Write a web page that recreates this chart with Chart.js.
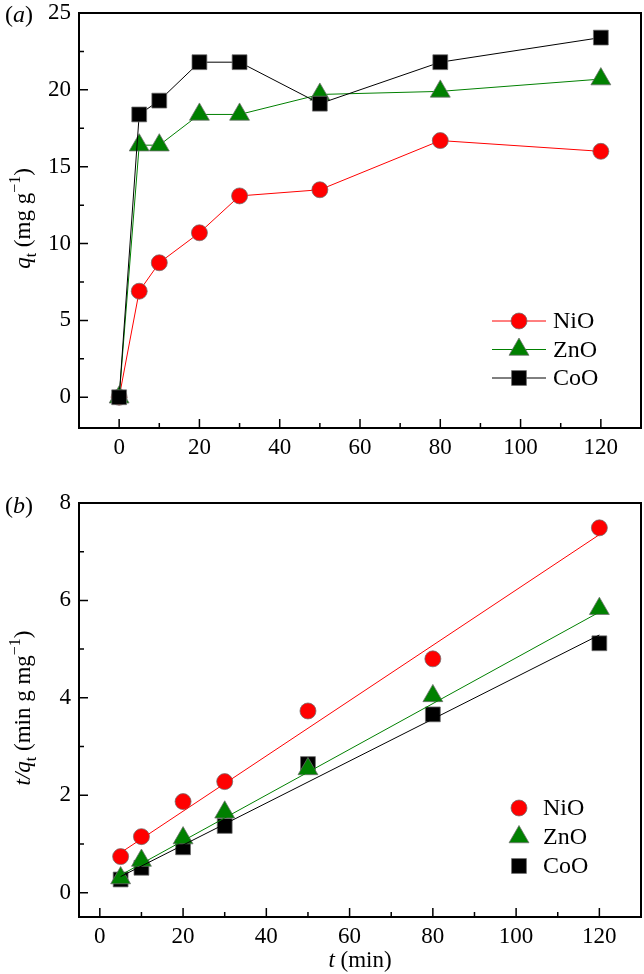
<!DOCTYPE html>
<html><head><meta charset="utf-8">
<script src="https://cdn.jsdelivr.net/npm/chart.js@4/dist/chart.umd.min.js"></script>
<style>
html,body{margin:0;padding:0;background:#fff;}
#ca{position:absolute;left:0;top:0;}
#cb{position:absolute;left:0;top:480px;}
.pre{font-family:'Liberation Serif';position:absolute;left:-999px;top:0;}
</style>
</head><body>
<span class="pre">NiO <i>q</i></span>
<canvas id="ca" width="644" height="480"></canvas>
<canvas id="cb" width="644" height="494"></canvas>
<script>
// ---------- data ----------
const seriesNames = ['NiO', 'ZnO', 'CoO'];
// panel (a): qt vs t
const tA = [0, 5, 10, 20, 30, 50, 80, 120];
const niA = [0, 6.9, 8.75, 10.7, 13.1, 13.5, 16.7, 16.0];
const znA = [0, 16.4, 16.4, 18.4, 18.4, 19.7, 19.9, 20.7];
const coA = [0, 18.4, 19.3, 21.8, 21.8, 19.1, 21.8, 23.4];
// panel (b): t/qt vs t
const tB = [5, 10, 20, 30, 50, 80, 120];
const niB = [0.74, 1.15, 1.87, 2.28, 3.73, 4.80, 7.49];
const znB = [0.30, 0.66, 1.12, 1.65, 2.54, 4.04, 5.83];
const coB = [0.27, 0.51, 0.93, 1.37, 2.64, 3.66, 5.12];
// fitted lines of panel (b), end points
const fitT = [5, 120];
const niFit = [0.82, 7.35];
const znFit = [0.36, 5.76];
const coFit = [0.33, 5.29];
// ticks
const xMajorA = [0, 20, 40, 60, 80, 100, 120];
const xMinorA = [10, 30, 50, 70, 90, 110];
const yMajorA = [0, 5, 10, 15, 20, 25];
const yMinorA = [2.5, 7.5, 12.5, 17.5, 22.5];
const xMajorB = [0, 20, 40, 60, 80, 100, 120];
const xMinorB = [10, 30, 50, 70, 90, 110];
const yMajorB = [0, 2, 4, 6, 8];
const yMinorB = [1, 3, 5, 7];

// ---------- styles ----------
const FONT = "'Liberation Serif', 'Times New Roman', serif";
const colors = ['#ff0000', '#008000', '#000000'];
const styles = ['circle', 'triangle', 'rect'];
const radii = [8, 11.5, 10.5];
const edge = 'rgba(110,110,110,0.75)';

function pts(xs, ys) { return xs.map((x, i) => ({x: x, y: ys[i]})); }

function drawMarker(ctx, style, x, y, r, fill, stroke) {
  ctx.save();
  ctx.fillStyle = fill; ctx.strokeStyle = stroke; ctx.lineWidth = 1;
  ctx.beginPath();
  if (style === 'circle') {
    ctx.arc(x, y, r, 0, Math.PI * 2);
  } else if (style === 'triangle') {
    let a = 0;
    ctx.moveTo(x + Math.sin(a) * r, y - Math.cos(a) * r);
    a += 2 * Math.PI / 3;
    ctx.lineTo(x + Math.sin(a) * r, y - Math.cos(a) * r);
    a += 2 * Math.PI / 3;
    ctx.lineTo(x + Math.sin(a) * r, y - Math.cos(a) * r);
    ctx.closePath();
  } else {
    const s = Math.SQRT1_2 * r;
    ctx.rect(x - s, y - s, 2 * s, 2 * s);
  }
  ctx.fill(); ctx.stroke();
  ctx.restore();
}

function rich(ctx, parts, x, y, rot, size) {
  ctx.save();
  ctx.translate(x, y);
  if (rot) ctx.rotate(-Math.PI / 2);
  const fontOf = p => (p.it ? 'italic ' : '') + ((p.sub || p.sup) ? Math.round(size * 0.68) : size) + 'px ' + FONT;
  let w = 0;
  parts.forEach(p => { ctx.font = fontOf(p); p.w = ctx.measureText(p.t).width; w += p.w; });
  let cx = -w / 2;
  ctx.fillStyle = '#000'; ctx.textAlign = 'left'; ctx.textBaseline = 'alphabetic';
  parts.forEach(p => {
    ctx.font = fontOf(p);
    const dy = p.sub ? size * 0.25 : (p.sup ? -size * 0.42 : 0);
    ctx.fillText(p.t, cx, dy);
    cx += p.w;
  });
  ctx.restore();
}

function makePlugin(o) {
  return {
    id: 'frame',
    afterDraw(chart) {
      const ctx = chart.ctx, a = chart.chartArea;
      const xs = chart.scales.x, ys = chart.scales.y;
      ctx.save();
      ctx.strokeStyle = '#000';
      ctx.lineWidth = 1.5;
      ctx.beginPath();
      o.xMajor.forEach(v => { const p = xs.getPixelForValue(v); ctx.moveTo(p, a.bottom); ctx.lineTo(p, a.bottom - 9); });
      o.xMinor.forEach(v => { const p = xs.getPixelForValue(v); ctx.moveTo(p, a.bottom); ctx.lineTo(p, a.bottom - 5); });
      o.yMajor.forEach(v => { const p = ys.getPixelForValue(v); ctx.moveTo(a.left, p); ctx.lineTo(a.left + 9, p); });
      o.yMinor.forEach(v => { const p = ys.getPixelForValue(v); ctx.moveTo(a.left, p); ctx.lineTo(a.left + 5, p); });
      ctx.stroke();
      ctx.lineWidth = 2;
      ctx.strokeRect(a.left, a.top, a.right - a.left, a.bottom - a.top);
      ctx.restore();
      // titles
      rich(ctx, o.yTitle, 30, (a.top + a.bottom) / 2 - 2, true, 23);
      if (o.xTitle) rich(ctx, o.xTitle, (a.left + a.right) / 2, o.xTitleY, false, 23);
      rich(ctx, o.panel, 19, o.panelY, false, 24);
      // legend
      const ds = chart.data.datasets.filter(d => d.inLegend).sort((p, q) => p.legendIndex - q.legendIndex);
      ds.forEach((d, i) => {
        const y = o.legY + i * o.legGap;
        if (o.legLine) {
          ctx.save(); ctx.strokeStyle = d.borderColor; ctx.lineWidth = 1;
          ctx.beginPath(); ctx.moveTo(o.legX - 27, y); ctx.lineTo(o.legX + 27, y); ctx.stroke(); ctx.restore();
        }
        drawMarker(ctx, d.pointStyle, o.legX, y, d.pointRadius, d.pointBackgroundColor, d.pointBorderColor);
        ctx.save(); ctx.fillStyle = '#000'; ctx.font = '24px ' + FONT; ctx.textAlign = 'left'; ctx.textBaseline = 'middle';
        ctx.fillText(d.label, o.legTextX, y + 1); ctx.restore();
      });
    }
  };
}

function scalesCfg(xmin, xmax, ymin, ymax, xMajor, yMajor, xh) {
  const tickFont = {family: FONT, size: 23};
  return {
    x: {
      type: 'linear', min: xmin, max: xmax,
      afterBuildTicks: s => { s.ticks = xMajor.map(v => ({value: v})); },
      ticks: {font: tickFont, color: '#000', padding: 6, maxRotation: 0, autoSkip: false},
      grid: {display: false, drawTicks: false}, border: {display: false},
      afterFit: s => { s.height = xh; s.paddingLeft = 0; s.paddingRight = 0; }
    },
    y: {
      type: 'linear', min: ymin, max: ymax,
      afterBuildTicks: s => { s.ticks = yMajor.map(v => ({value: v})); },
      ticks: {font: tickFont, color: '#000', padding: 8, autoSkip: false},
      grid: {display: false, drawTicks: false}, border: {display: false},
      afterFit: s => { s.width = 79; s.paddingTop = 0; s.paddingBottom = 0; }
    }
  };
}

function build() {
  // ---------- chart (a) ----------
  const dataA = [niA, znA, coA];
  new Chart(document.getElementById('ca'), {
    type: 'line',
    data: {
      datasets: dataA.map((ys, i) => ({
        label: seriesNames[i], inLegend: true, legendIndex: i,
        data: pts(tA, ys),
        borderColor: colors[i], borderWidth: 1, tension: 0, fill: false,
        pointStyle: styles[i], pointRadius: radii[i], pointHoverRadius: radii[i],
        pointBackgroundColor: colors[i], pointBorderColor: edge, pointBorderWidth: 1
      })).reverse()
    },
    options: {
      responsive: false, animation: false, events: [],
      layout: {autoPadding: false, padding: {top: 13, right: 3, left: 0, bottom: 0}},
      plugins: {legend: {display: false}, tooltip: {enabled: false}},
      scales: scalesCfg(-10, 130, -2, 25, xMajorA, yMajorA, 52)
    },
    plugins: [makePlugin({
      xMajor: xMajorA, xMinor: xMinorA, yMajor: yMajorA, yMinor: yMinorA,
      yTitle: [{t: 'q', it: true}, {t: 't', sub: true}, {t: ' (mg g'}, {t: '\u22121', sup: true}, {t: ')'}],
      xTitle: null,
      panel: [{t: '('}, {t: 'a', it: true}, {t: ')'}], panelY: 22,
      legX: 519, legTextX: 553, legY: 321, legGap: 28.5, legLine: true
    })]
  });

  // ---------- chart (b) ----------
  const dataB = [niB, znB, coB];
  const fitB = [niFit, znFit, coFit];
  const dsB = [];
  fitB.forEach((ys, i) => dsB.push({
    label: seriesNames[i] + ' fit', inLegend: false, type: 'line',
    data: pts(fitT, ys), borderColor: colors[i], borderWidth: 1, pointRadius: 0, tension: 0, fill: false
  }));
  dataB.forEach((ys, i) => dsB.push({
    label: seriesNames[i], inLegend: true, legendIndex: i, type: 'scatter',
    data: pts(tB, ys), showLine: false, borderColor: colors[i],
    pointStyle: styles[i], pointRadius: radii[i], pointHoverRadius: radii[i],
    pointBackgroundColor: colors[i], pointBorderColor: edge, pointBorderWidth: 1
  }));
  new Chart(document.getElementById('cb'), {
    type: 'scatter',
    data: {datasets: dsB},
    options: {
      responsive: false, animation: false, events: [],
      layout: {autoPadding: false, padding: {top: 23, right: 3, left: 0, bottom: 0}},
      plugins: {legend: {display: false}, tooltip: {enabled: false}},
      scales: scalesCfg(-5, 130, -0.5, 8, xMajorB, yMajorB, 57)
    },
    plugins: [makePlugin({
      xMajor: xMajorB, xMinor: xMinorB, yMajor: yMajorB, yMinor: yMinorB,
      yTitle: [{t: 't/q', it: true}, {t: 't', sub: true}, {t: ' (min g mg'}, {t: '\u22121', sup: true}, {t: ')'}],
      xTitle: [{t: 't', it: true}, {t: ' (min)'}], xTitleY: 487,
      panel: [{t: '('}, {t: 'b', it: true}, {t: ')'}], panelY: 33,
      legX: 519, legTextX: 543, legY: 328, legGap: 29, legLine: false
    })]
  });
}

Promise.all([
  document.fonts.load("23px 'Liberation Serif'"),
  document.fonts.load("italic 23px 'Liberation Serif'")
]).then(build, build);
</script>
</body></html>
